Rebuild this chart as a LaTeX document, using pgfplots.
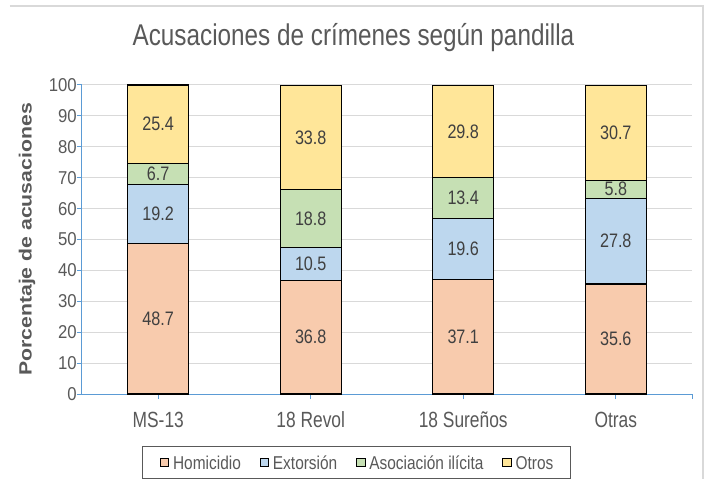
\documentclass[border=0pt]{standalone}
\usepackage{fontspec}
\setmainfont{Liberation Sans}
\usepackage{pgfplots}
\pgfplotsset{compat=1.18}
\usepackage{pgfplotstable}
\newfontfamily\titlefont{Liberation Sans}[FakeStretch=0.81]
\newfontfamily\xfont{Liberation Sans}[FakeStretch=0.79]
\newfontfamily\valfont{Liberation Sans}[FakeStretch=0.83]
\newfontfamily\legfont{Liberation Sans}[FakeStretch=0.83]
\newfontfamily\ylabfont{Liberation Sans}[FakeStretch=1.2]
\newfontfamily\ytfont{Liberation Sans}[FakeStretch=0.9]
\definecolor{txt}{HTML}{595959}
\definecolor{valtxt}{HTML}{404040}
\definecolor{axblue}{HTML}{5B9BD5}
\definecolor{gridc}{HTML}{D9D9D9}
\definecolor{chom}{HTML}{F8CBAD}
\definecolor{cext}{HTML}{BDD7EE}
\definecolor{caso}{HTML}{C6E0B4}
\definecolor{cotr}{HTML}{FFE699}
\pgfplotstableread{
x hom ext aso otr
0 48.7 19.2 6.7 25.4
1 36.8 10.5 18.8 33.8
2 37.1 19.6 13.4 29.8
3 35.6 27.8 5.8 30.7
}\datatable
\begin{document}
\begin{tikzpicture}
\path[use as bounding box] (-82pt,-85pt) rectangle (633pt,394pt);
\draw[gridc, line width=1.2pt] (-72pt,388pt) -- (621pt,388pt) -- (621pt,-85pt);
\begin{axis}[
  at={(0pt,0pt)}, anchor=south west,
  scale only axis, width=610pt, height=309pt,
  ybar stacked, bar width=61pt,
  xmin=-0.5, xmax=3.5, ymin=0, ymax=100,
  clip=false,
  xtick={0,1,2,3}, xticklabels={MS-13,18 Revol,18 Sureños,Otras},
  extra x ticks={3.5}, extra x tick labels={},
  ytick={0,10,...,100},
  axis lines=left, axis line style={-, axblue, line width=1pt},
  tick align=outside, major tick length=5pt,
  tick style={axblue, line width=1pt},
  ymajorgrids, grid style={gridc, line width=1pt},
  /pgf/number format/assume math mode=true,
  yticklabel style={font=\ytfont\fontsize{18.6}{20}\selectfont, text=txt, anchor=east, inner sep=0pt},
  xticklabel style={font=\xfont\fontsize{22}{24}\selectfont, text=txt, anchor=base, inner sep=0pt, yshift=-28.3pt},
  title={Acusaciones de crímenes según pandilla},
  title style={at={(axis description cs:0.445,1)}, anchor=base, yshift=33.3pt, inner sep=0pt,
    font=\titlefont\fontsize{30}{36}\selectfont, text=txt},
  ylabel={Porcentaje de acusaciones},
  ylabel style={at={(axis description cs:-0.0902,0.5)}, anchor=center, inner sep=0pt,
    font=\ylabfont\bfseries\fontsize{17.7}{20}\selectfont, text=txt},
  visualization depends on={rawy \as \segh},
  nodes near coords={\pgfmathprintnumber[fixed,precision=1,fixed zerofill]{\segh}},
  every node near coord/.append style={anchor=center, inner sep=0pt,
    font=\valfont\fontsize{19.5}{21}\selectfont, text=valtxt},
  legend style={at={(axis description cs:0.0984,-0.1683)}, anchor=north west,
    legend columns=4, draw=txt, line width=1pt, inner xsep=17.5pt, inner ysep=9pt,
    font=\legfont\fontsize{18.6}{20}\selectfont, text=txt,
    nodes={inner sep=0pt, text height=13.5pt, text depth=0pt},
    /tikz/every even column/.append style={column sep=19pt}},
  every axis plot post/.append style={
    legend image code/.code={\draw[#1,draw=black,line width=1pt] (0pt,-4.2pt) rectangle (8.3pt,4.2pt); \path (12pt,0pt);}},
]
\addplot[fill=chom, draw=black, line width=1.15pt] table[x=x,y=hom]{\datatable};
\addplot[fill=cext, draw=black, line width=1.15pt] table[x=x,y=ext]{\datatable};
\addplot[fill=caso, draw=black, line width=1.15pt] table[x=x,y=aso]{\datatable};
\addplot[fill=cotr, draw=black, line width=1.15pt] table[x=x,y=otr]{\datatable};
\legend{Homicidio, Extorsión, Asociación ilícita, Otros}
\end{axis}
\end{tikzpicture}
\end{document}
